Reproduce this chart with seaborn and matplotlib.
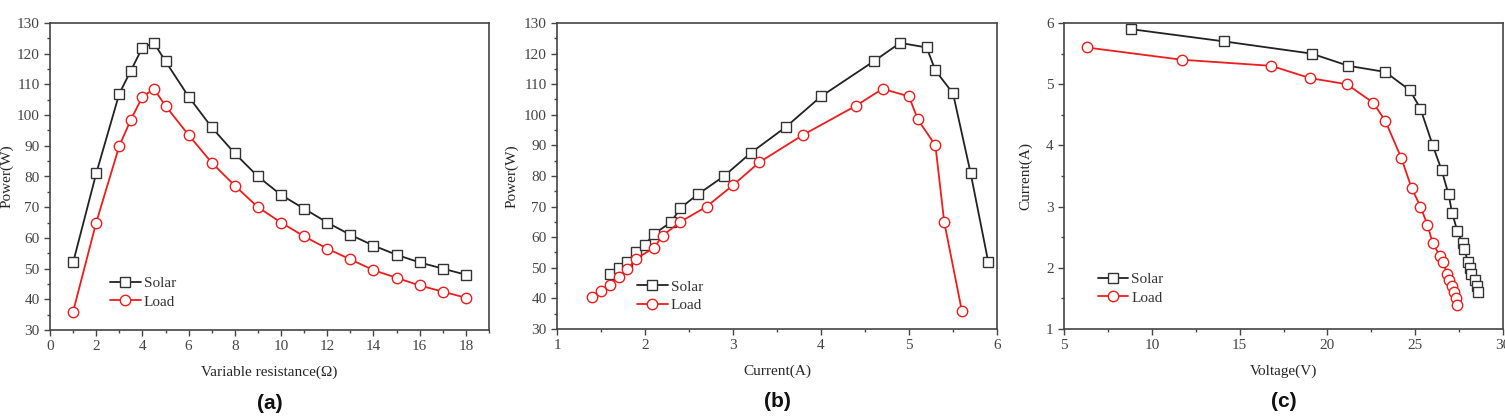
import numpy as np
import pandas as pd
import matplotlib
matplotlib.use("Agg")
import matplotlib.pyplot as plt
import seaborn as sns
from matplotlib.ticker import AutoMinorLocator

# ---------------------------------
# Data
# ---------------------------------

# (a) power vs variable resistance
res_ohm = [1, 2, 3, 3.5, 4, 4.5, 5, 6, 7, 8, 9, 10, 11, 12, 13, 14, 15, 16, 17, 18]
solar_power_a = [52, 81, 107, 114.5, 122, 123.5, 117.5, 106, 96, 87.5, 80, 74, 69.5, 65, 61, 57.5, 54.5, 52, 50, 48]
load_power_a = [36, 65, 90, 98.5, 106, 108.5, 103, 93.5, 84.5, 77, 70, 65, 60.5, 56.5, 53, 49.5, 47, 44.5, 42.5, 40.5]

# (b) power vs current
solar_current_b = [1.6, 1.7, 1.8, 1.9, 2.0, 2.1, 2.3, 2.4, 2.6, 2.9, 3.2, 3.6, 4.0, 4.6, 4.9, 5.2, 5.3, 5.5, 5.7, 5.9]
solar_power_b = [48, 50, 52, 55, 57.5, 61, 65, 69.5, 74, 80, 87.5, 96, 106, 117.5, 123.5, 122, 114.5, 107, 81, 52]
load_current_b = [1.4, 1.5, 1.6, 1.7, 1.8, 1.9, 2.1, 2.2, 2.4, 2.7, 3.0, 3.3, 3.8, 4.4, 4.7, 5.0, 5.1, 5.3, 5.4, 5.6]
load_power_b = [40.5, 42.5, 44.5, 47, 49.5, 53, 56.5, 60.5, 65, 70, 77, 84.5, 93.5, 103, 108.5, 106, 98.5, 90, 65, 36]

# (c) current vs voltage
solar_voltage_c = [8.8, 14.1, 19.1, 21.2, 23.3, 24.7, 25.3, 26.0, 26.5, 26.9, 27.1, 27.4, 27.7, 27.8, 28.0, 28.1, 28.2, 28.4, 28.5, 28.6]
solar_current_c = [5.9, 5.7, 5.5, 5.3, 5.2, 4.9, 4.6, 4.0, 3.6, 3.2, 2.9, 2.6, 2.4, 2.3, 2.1, 2.0, 1.9, 1.8, 1.7, 1.6]
load_voltage_c = [6.3, 11.7, 16.8, 19.0, 21.1, 22.6, 23.3, 24.2, 24.8, 25.3, 25.7, 26.0, 26.4, 26.6, 26.8, 26.9, 27.1, 27.2, 27.3, 27.4]
load_current_c = [5.6, 5.4, 5.3, 5.1, 5.0, 4.7, 4.4, 3.8, 3.3, 3.0, 2.7, 2.4, 2.2, 2.1, 1.9, 1.8, 1.7, 1.6, 1.5, 1.4]

panel_labels = ["(a)", "(b)", "(c)"]

# ---------------------------------
# Style
# ---------------------------------

sns.set_style("ticks")
plt.rcParams["font.family"] = ["Liberation Serif", "DejaVu Serif"]
plt.rcParams["axes.edgecolor"] = "#444444"
plt.rcParams["xtick.color"] = "#444444"
plt.rcParams["ytick.color"] = "#444444"
plt.rcParams["text.color"] = "#333333"

fig = plt.figure(figsize=(15.05, 4.19), dpi=100)

W, H = 1505, 419
boxes = [(50, 23, 489, 330), (557, 23, 997, 329), (1064, 23, 1503, 329)]
axes = []
for (x0, y0, x1, y1) in boxes:
    axes.append(fig.add_axes([x0 / W, 1 - y1 / H, (x1 - x0) / W, (y1 - y0) / H]))

solar_kw = dict(color="#222222", marker="s", markersize=7, mfc="white",
                mec="#333333", mew=1.0, linewidth=1.3)
load_kw = dict(color="#ee1c1c", marker="o", markersize=7.5, mfc="white",
               mec="#ee1c1c", mew=1.0, linewidth=1.3)

series = [
    (res_ohm, solar_power_a, res_ohm, load_power_a),
    (solar_current_b, solar_power_b, load_current_b, load_power_b),
    (solar_voltage_c, solar_current_c, load_voltage_c, load_current_c),
]

for ax, (sx, sy, lx, ly) in zip(axes, series):
    sns.lineplot(x=sx, y=sy, ax=ax, sort=False, label="Solar", **solar_kw)
    sns.lineplot(x=lx, y=ly, ax=ax, sort=False, label="Load", **load_kw)

# axis limits / labels
axes[0].set_xlim(0, 19)
axes[0].set_ylim(30, 130)
axes[0].set_xticks(np.arange(0, 19, 2))
axes[0].set_yticks(np.arange(30, 131, 10))
axes[0].set_xlabel("Variable resistance(\u03a9)", fontsize=11, labelpad=9)
axes[0].set_ylabel("Power(W)", fontsize=11, labelpad=2)

axes[1].set_xlim(1, 6)
axes[1].set_ylim(30, 130)
axes[1].set_xticks(np.arange(1, 7, 1))
axes[1].set_yticks(np.arange(30, 131, 10))
axes[1].set_xlabel("Current(A)", fontsize=11, labelpad=9)
axes[1].set_ylabel("Power(W)", fontsize=11, labelpad=4)

axes[2].set_xlim(5, 30)
axes[2].set_ylim(1, 6)
axes[2].set_xticks(np.arange(5, 31, 5))
axes[2].set_yticks(np.arange(1, 7, 1))
axes[2].set_xlabel("Voltage(V)", fontsize=11, labelpad=9)
axes[2].set_ylabel("Current(A)", fontsize=11, labelpad=10)

legend_pos = [(0.13, 0.06), (0.175, 0.046), (0.07, 0.07)]

for ax, lab, lp in zip(axes, panel_labels, legend_pos):
    ax.xaxis.set_minor_locator(AutoMinorLocator(2))
    ax.yaxis.set_minor_locator(AutoMinorLocator(2))
    ax.tick_params(which="major", direction="out", length=4, width=1, labelsize=11)
    ax.tick_params(which="minor", direction="out", length=2.5, width=1)
    for sp in ax.spines.values():
        sp.set_linewidth(1.2)
        sp.set_visible(True)
    ax.legend(loc="lower left", bbox_to_anchor=lp, frameon=False, fontsize=11,
              handlelength=2.0, handletextpad=0.2, borderaxespad=0.0,
              borderpad=0.2, labelspacing=0.3)
    ax.text(0.5, -0.238, lab, transform=ax.transAxes, ha="center", va="center",
            fontsize=15, fontweight="bold", family=["Liberation Sans", "DejaVu Sans"],
            color="#111111")

fig.savefig("out.png", dpi=100)
